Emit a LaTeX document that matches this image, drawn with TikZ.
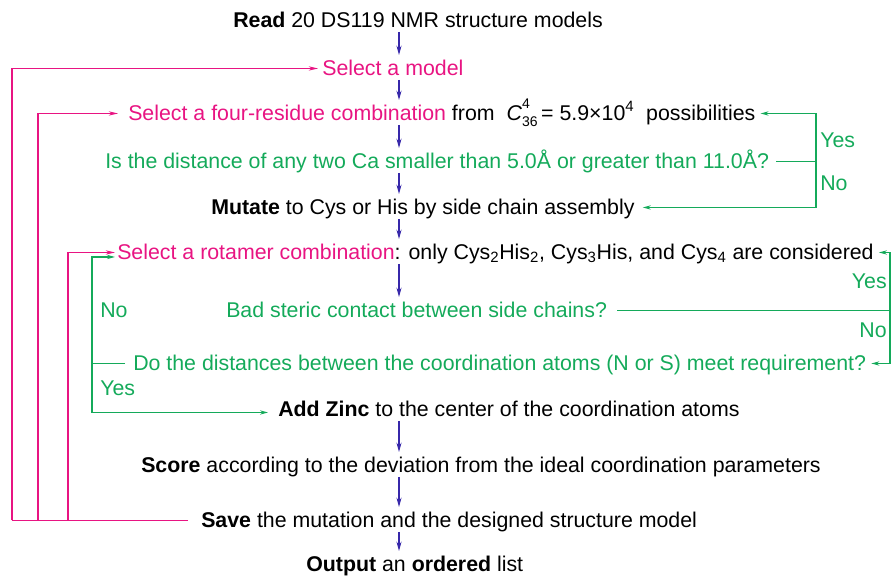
\documentclass[tikz,border=0pt]{standalone}
\usepackage{fontspec}
\setmainfont{Liberation Sans}
\usetikzlibrary{arrows.meta,calc}
\definecolor{mag}{RGB}{232,20,130}
\definecolor{grn}{RGB}{20,170,90}
\definecolor{ind}{RGB}{55,40,170}
\newcommand\Ccomb{\textit{C}\rlap{\raisebox{0.55em}{\fontsize{10.5}{10.5}\selectfont 4}}\raisebox{-0.3em}{\fontsize{10.5}{10.5}\selectfont 36}}
\begin{document}
\begin{tikzpicture}[x=0.75pt,y=-0.75pt,
  txt/.style={anchor=base west,inner sep=0pt,font=\fontsize{16}{19}\selectfont,text height=9.8pt,text depth=0pt},
  down/.style={draw=ind,line width=0.8pt,-{Stealth[length=7pt,width=3.8pt]},shorten <=3.5pt,shorten >=5pt},
  gline/.style={draw=grn,line width=0.9pt},
  garr/.style={gline,-{Stealth[length=6pt,width=3.2pt]}},
  mline/.style={draw=mag,line width=0.9pt},
  marr/.style={mline,-{Stealth[length=7pt,width=3.2pt]}},
  lab/.style={inner sep=0pt,font=\fontsize{16}{19}\selectfont,text=grn}]
\useasboundingbox (0,0) rectangle (892,576);
\node[txt] (n1) at (233,27) {\textbf{Read} 20 DS119 NMR structure models};
\node[txt,text=mag] (n2) at (322,75) {Select a model};
\node[txt] (n3) at (128,120) {\textcolor{mag}{Select a four-residue combination} from \ \Ccomb\,= 5.9×10\textsuperscript{4} \ possibilities};
\node[txt,text=grn] (n4) at (105,168) {Is the distance of any two Ca smaller than 5.0Å or greater than 11.0Å?};
\node[txt] (n5) at (211,214) {\textbf{Mutate} to Cys or His by side chain assembly};
\node[txt] (n6) at (117,259) {\textcolor{mag}{Select a rotamer combination}: only Cys\textsubscript{2}His\textsubscript{2}, Cys\textsubscript{3}His, and Cys\textsubscript{4} are considered};
\node[txt,text=grn] (n7) at (226,317) {Bad steric contact between side chains?};
\node[txt,text=grn] (n8) at (133,370) {Do the distances between the coordination atoms (N or S) meet requirement?};
\node[txt] (n9) at (278,416) {\textbf{Add Zinc} to the center of the coordination atoms};
\node[txt] (n10) at (141,472) {\textbf{Score} according to the deviation from the ideal coordination parameters};
\node[txt] (n11) at (201,527) {\textbf{Save} the mutation and the designed structure model};
\node[txt] (n12) at (306,571) {\textbf{Output} an \textbf{ordered} list};
\coordinate (ax) at (399,0);
\draw[down] (n1.south -| ax) -- (n2.north -| ax);
\draw[down] (n2.south -| ax) -- (n3.north -| ax);
\draw[down] (n3.south -| ax) -- (n4.north -| ax);
\draw[down] (n4.south -| ax) -- (n5.north -| ax);
\draw[down] (n5.south -| ax) -- (n6.north -| ax);
\draw[down] (n6.south -| ax) -- (n7.north -| ax);
\draw[down] (n9.south -| ax) -- (n10.north -| ax);
\draw[down] (n10.south -| ax) -- (n11.north -| ax);
\draw[down] (n11.south -| ax) -- (n12.north -| ax);
% right green loop 1
\coordinate (r1) at (816,0);
\draw[gline] ($(n4.east)+(7,0)$) -- (n4.east -| r1);
\draw[garr] (n4.east -| r1) |- ($(n3.east)+(5,0)$);
\draw[garr] (n4.east -| r1) |- ($(n5.east)+(8,0)$);
\node[lab,anchor=base west] (y1) at (820,147) {Yes};
\node[lab,anchor=base west] (no1) at (820,190) {No};
% right green loop 2
\coordinate (r2) at (890,0);
\draw[gline] ($(n7.east)+(10,0)$) -- (n7.east -| r2);
\draw[garr] (n7.east -| r2) |- ($(n6.east)+(5,0)$);
\draw[garr] (n7.east -| r2) |- ($(n8.east)+(5,0)$);
\node[lab,anchor=base east] (y2) at (887,288) {Yes};
\node[lab,anchor=base east] (no2) at (887,337) {No};
% left green loop
\coordinate (l1) at (92,0);
\draw[gline] ($(n8.west)+(-8,0)$) -- (n8.west -| l1);
\draw[garr] (n8.west -| l1) |- ($(n6.west)+(-2,4.5)$);
\draw[garr] (n8.west -| l1) |- ($(n9.west)+(-10,3)$);
\node[lab,anchor=base west] (no3) at (100,317) {No};
\node[lab,anchor=base west] (y3) at (100,395) {Yes};
% magenta loops
\coordinate (m1) at (12,0);
\coordinate (m2) at (38,0);
\coordinate (m3) at (68,0);
\draw[mline] ($(n11.west)+(-13,0)$) -- (n11.west -| m1);
\draw[marr] (n11.west -| m1) |- ($(n2.west)+(-4,0)$);
\draw[marr] (n11.west -| m2) |- ($(n3.west)+(-10,0)$);
\draw[marr] (n11.west -| m3) |- ($(n6.west)+(-2,0)$);
\end{tikzpicture}
\end{document}
